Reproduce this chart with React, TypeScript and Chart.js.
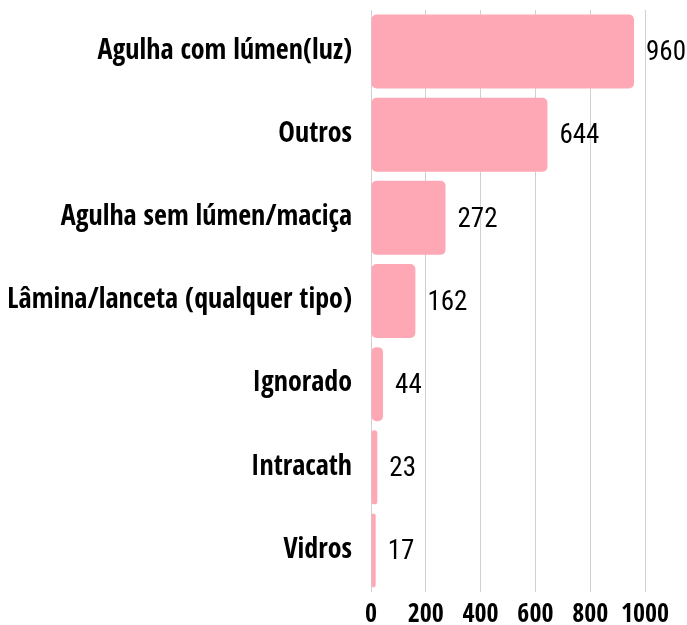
import React, { useEffect, useRef } from "react";
import { Chart, registerables } from "chart.js";

Chart.register(...registerables);

const categories = [
  "Agulha com lúmen(luz)",
  "Outros",
  "Agulha sem lúmen/maciça",
  "Lâmina/lanceta (qualquer tipo)",
  "Ignorado",
  "Intracath",
  "Vidros",
];
const values = [960, 644, 272, 162, 44, 23, 17];
const xTicks = [0, 200, 400, 600, 800, 1000];

const FONT = "'Open Sans Condensed', 'Roboto Condensed', sans-serif";
const VFONT = "'Roboto Condensed', 'Open Sans Condensed', sans-serif";

const valueLabels = {
  id: "valueLabels",
  afterDatasetsDraw(chart: any) {
    const ctx = chart.ctx;
    const meta = chart.getDatasetMeta(0);
    ctx.save();
    ctx.font = `400 27px ${VFONT}`;
    ctx.fillStyle = "#000";
    ctx.textAlign = "left";
    ctx.textBaseline = "middle";
    meta.data.forEach((bar: any, i: number) => {
      ctx.fillText(String(values[i]), bar.x + 12, bar.y + 2);
    });
    ctx.restore();
  },
};

export default function App() {
  const ref = useRef<HTMLCanvasElement>(null);
  useEffect(() => {
    document.body.style.margin = "0";
    const chart = new Chart(ref.current!, {
      type: "bar",
      data: {
        labels: categories,
        datasets: [
          {
            data: values,
            backgroundColor: "#ffa8b5",
            borderRadius: 5,
            borderSkipped: false,
            categoryPercentage: 0.89,
            barPercentage: 1,
          },
        ],
      },
      options: {
        indexAxis: "y",
        animation: false,
        responsive: false,
        layout: { padding: { top: 10, right: 42, bottom: 0, left: 0 } },
        plugins: { legend: { display: false }, tooltip: { enabled: false } },
        scales: {
          x: {
            min: 0,
            max: 1000,
            afterBuildTicks(scale: any) {
              scale.ticks = xTicks.map((v) => ({ value: v }));
            },
            afterFit(scale: any) {
              scale.height = 33;
              scale.paddingLeft = 0;
              scale.paddingRight = 0;
            },
            grid: { color: "#d0d0d0", lineWidth: 1, drawTicks: false },
            border: { display: false },
            ticks: {
              color: "#000",
              padding: 8,
              maxRotation: 0,
              minRotation: 0,
              autoSkip: false,
              callback: (v: any) => String(v),
              font: { family: FONT, size: 26, weight: "bold" },
            },
          },
          y: {
            grid: { display: false, drawTicks: false },
            border: { display: false },
            afterFit(scale: any) {
              scale.width = 371;
              scale.paddingTop = 0;
              scale.paddingBottom = 0;
            },
            ticks: {
              color: "#000",
              padding: 19,
              autoSkip: false,
              font: { family: FONT, size: 28, weight: "bold" },
            },
          },
        },
      },
      plugins: [valueLabels],
    });
    return () => chart.destroy();
  }, []);
  return (
    <div style={{ position: "absolute", left: 0, top: 0, width: 687, height: 625 }}>
      <canvas ref={ref} width={687} height={625} />
    </div>
  );
}
